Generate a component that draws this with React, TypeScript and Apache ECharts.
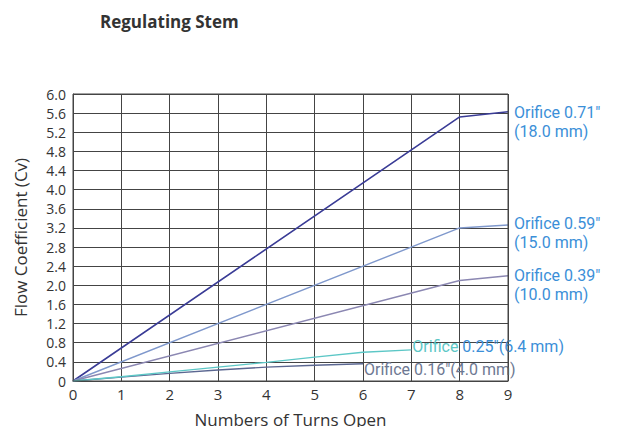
import React, { useEffect, useRef } from "react";
import * as echarts from "echarts";

const title = "Regulating Stem";
const xAxisName = "Numbers of Turns Open";
const yAxisName = "Flow Coefficient (Cv)";

const s071: [number, number][] = [[0, 0], [8, 5.52], [9, 5.63]];
const s059: [number, number][] = [[0, 0], [8, 3.2], [9, 3.26]];
const s039: [number, number][] = [[0, 0], [8, 2.1], [9, 2.2]];
const s025: [number, number][] = [[0, 0], [1, 0.09], [2, 0.19], [3, 0.29], [4, 0.39], [5, 0.5], [6, 0.6], [7, 0.65]];
const s016: [number, number][] = [[0, 0], [1, 0.08], [2, 0.16], [3, 0.23], [4, 0.29], [5, 0.33], [6, 0.36]];

const FONT = "'Open Sans', 'Noto Sans', sans-serif";
const LFONT = "Roboto, 'Open Sans', sans-serif";
const LABEL_BLUE = "#3b8fd8";

export default function App() {
  const ref = useRef<HTMLDivElement>(null);
  useEffect(() => {
    const chart = echarts.init(ref.current!, null, { renderer: "svg" });
    const mk = (name: string, data: [number, number][], color: string, width: number, endLabel: any) => ({
      type: "line",
      name,
      data,
      showSymbol: false,
      symbol: "none",
      lineStyle: { color, width },
      endLabel,
      z: 3,
    });
    const twoLine = (text: string, dy: number) => ({
      show: true,
      formatter: text,
      color: LABEL_BLUE,
      fontSize: 16,
      lineHeight: 19,
      fontFamily: LFONT,
      distance: 6,
      offset: [0, dy],
    });
    chart.setOption({
      animation: false,
      textStyle: { fontFamily: FONT },
      title: {
        text: title,
        left: 87,
        top: 0,
        textStyle: { fontSize: 17, fontWeight: "bold", color: "#333", fontFamily: FONT },
      },
      grid: { left: 65, right: 111, top: 86, bottom: 54, containLabel: false, outerBoundsMode: "none" },
      xAxis: {
        type: "value",
        min: 0,
        max: 9,
        interval: 1,
        name: xAxisName,
        nameLocation: "middle",
        nameGap: 30,
        nameTextStyle: { fontSize: 17, color: "#333", fontFamily: FONT },
        axisLine: { show: true, lineStyle: { color: "#444", width: 1 } },
        axisTick: { show: false },
        axisLabel: { fontSize: 15, color: "#333", margin: 5, fontFamily: FONT },
        splitLine: { show: true, lineStyle: { color: "#444", width: 1 } },
      },
      yAxis: {
        type: "value",
        min: 0,
        max: 6,
        interval: 0.4,
        name: yAxisName,
        nameLocation: "middle",
        nameGap: 44,
        nameTextStyle: { fontSize: 17, color: "#333", fontFamily: FONT },
        axisLine: { show: true, lineStyle: { color: "#444", width: 1 } },
        axisTick: { show: false },
        axisLabel: {
          fontSize: 14,
          color: "#333",
          margin: 7,
          fontFamily: FONT,
          formatter: (v: number) => (v === 0 ? "0" : v.toFixed(1)),
        },
        splitLine: { show: true, lineStyle: { color: "#444", width: 1 } },
      },
      graphic: [
        {
          type: "rect",
          shape: { x: 65, y: 86, width: 435, height: 287 },
          style: { fill: "none", stroke: "#444", lineWidth: 1 },
          z: 10,
        },
      ],
      series: [
        mk("0.71", s071, "#3a3c96", 1.6, twoLine('Orifice 0.71"\n(18.0 mm)', 10)),
        mk("0.59", s059, "#7f98cc", 1.4, twoLine('Orifice 0.59"\n(15.0 mm)', 8)),
        mk("0.39", s039, "#8b87b2", 1.4, twoLine('Orifice 0.39"\n(10.0 mm)', 9)),
        mk("0.16", s016, "#5b6791", 1.4, {
          show: true,
          formatter: 'Orifice 0.16"(4.0 mm)',
          color: "#6d7892",
          fontSize: 16,
          fontFamily: LFONT,
          distance: 1,
          offset: [0, 6],
        }),
        mk("0.25", s025, "#5cc7c6", 1.4, {
          show: true,
          formatter: '{a|Orifice} 0.25"(6.4 mm)',
          color: LABEL_BLUE,
          fontSize: 16,
          fontFamily: LFONT,
          distance: 1,
          offset: [0, -3],
          rich: {
            a: { color: "#5cc7c6", fontSize: 16, fontFamily: LFONT },
          },
        }),
      ],
    });
    return () => chart.dispose();
  }, []);
  return <div ref={ref} style={{ width: 611, height: 427, marginBottom: -8 }} />;
}
